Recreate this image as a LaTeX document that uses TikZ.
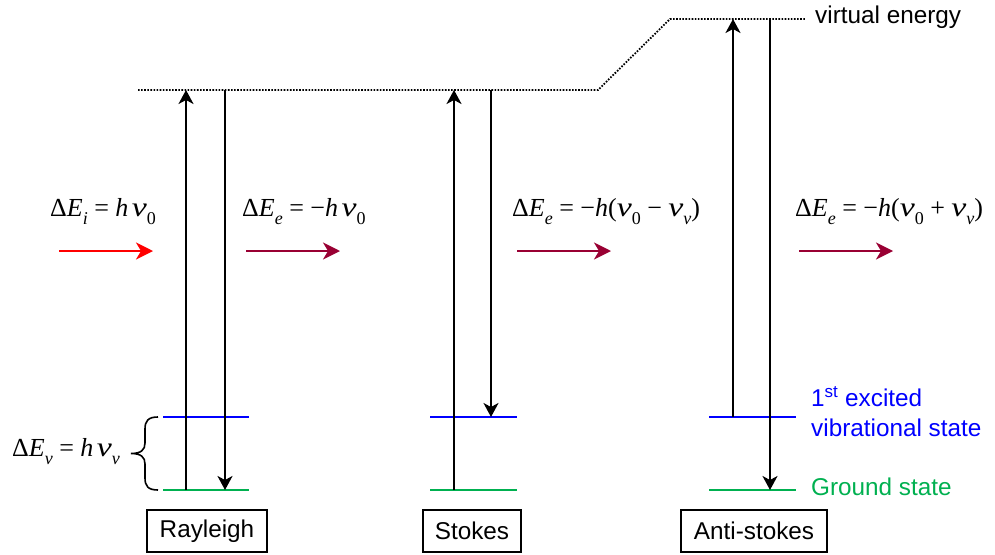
\documentclass[tikz,border=0pt]{standalone}
\usepackage{fontspec}
\usepackage{graphicx}
\setmainfont{Liberation Sans}
\newfontfamily\tms{Liberation Serif}
\usetikzlibrary{arrows.meta}
\definecolor{maroon}{RGB}{153,0,51}
\definecolor{lvblue}{RGB}{0,0,255}
\definecolor{lvgreen}{RGB}{0,176,80}
\newcommand{\sbs}[1]{\raisebox{-0.32em}{\fontsize{18}{18}\selectfont\textit{#1}}}
\newcommand{\sbu}[1]{\raisebox{-0.32em}{\fontsize{18}{18}\selectfont #1}}
\newcommand{\nuu}{\scalebox{1.3}[1.05]{\textit{ν}}}
\newcommand{\opsp}{\hspace{6.5pt}}
\tikzset{
  txt/.style={font=\fontsize{24.3}{28}\selectfont, inner sep=0pt},
  eqn/.style={font=\tms\fontsize{26}{30}\selectfont, inner sep=0pt, anchor=base west},
  virt/.style={line width=1.8pt, dash pattern=on 1.6pt off 1.5pt},
  trans/.style={line width=2pt, -{Stealth[length=14pt,width=15pt,inset=4pt]}},
  bar/.style={line width=2pt},
  photon/.style={line width=2pt, -{Stealth[length=17pt,width=17pt,inset=5pt]}},
  lblbox/.style={draw, line width=1.2pt, minimum height=42pt, font=\fontsize{24.3}{28}\selectfont, inner sep=0pt}
}
\begin{document}
\begin{tikzpicture}[x=1pt,y=-1pt]
\useasboundingbox (0,0) rectangle (995,554);
% virtual energy level
\coordinate (vL) at (138,90);
\coordinate (vK1) at (598,90);
\coordinate (vK2) at (670,19);
\coordinate (vR) at (805,19);
\draw[virt] (vL) -- (vK1) -- (vK2) -- (vR);
\node[txt, anchor=west] (vlab) at (815,17) {virtual energy};
% Rayleigh
\coordinate (r1a) at (163,417); \coordinate (r1b) at (249,417);
\coordinate (r0a) at (163,490); \coordinate (r0b) at (249,490);
\draw[bar, lvblue] (r1a) -- (r1b);
\draw[bar, lvgreen] (r0a) -- (r0b);
\coordinate (ru0) at (186,490); \coordinate (ru1) at (186,90);
\coordinate (rd0) at (225,90); \coordinate (rd1) at (225,490);
\draw[trans] (ru0) -- (ru1);
\draw[trans] (rd0) -- (rd1);
% brace
\coordinate (bt) at (158,417); \coordinate (bb) at (158,490); \coordinate (btip) at (131,453.5);
\draw[line width=1.6pt] (bt) .. controls (148,417) and (145,421) .. (145,429) -- (145,443)
  .. controls (145,450) and (141,453.5) .. (btip)
  .. controls (141,453.5) and (145,457) .. (145,464) -- (145,478)
  .. controls (145,486) and (148,490) .. (bb);
\node[eqn] (eqv) at (12,456) {Δ\textit{E}\sbs{v}\opsp=\opsp\textit{h}\hspace{3.5pt}\nuu\sbs{v}};
\node[lblbox, minimum width=120pt] (rbox) at (207,531) {Rayleigh};
% Stokes
\coordinate (s1a) at (430,417); \coordinate (s1b) at (517,417);
\coordinate (s0a) at (430,490); \coordinate (s0b) at (517,490);
\draw[bar, lvblue] (s1a) -- (s1b);
\draw[bar, lvgreen] (s0a) -- (s0b);
\coordinate (su0) at (454,490); \coordinate (su1) at (454,90);
\coordinate (sd0) at (491,90); \coordinate (sd1) at (491,417);
\draw[trans] (su0) -- (su1);
\draw[trans] (sd0) -- (sd1);
\node[lblbox, minimum width=98pt] (sbox) at (472,531) {Stokes};
% Anti-stokes
\coordinate (a1a) at (709,417); \coordinate (a1b) at (796,417);
\coordinate (a0a) at (709,490); \coordinate (a0b) at (796,490);
\draw[bar, lvblue] (a1a) -- (a1b);
\draw[bar, lvgreen] (a0a) -- (a0b);
\coordinate (au0) at (733,417); \coordinate (au1) at (733,19);
\coordinate (ad0) at (770,19); \coordinate (ad1) at (770,490);
\draw[trans] (au0) -- (au1);
\draw[trans] (ad0) -- (ad1);
\node[lblbox, minimum width=146pt] (abox) at (754,531) {Anti-stokes};
% state labels
\node[txt, anchor=west, text=lvblue, align=left, font=\fontsize{24.3}{30}\selectfont] (exlab) at (811,412) {1\textsuperscript{st} excited\\vibrational state};
\node[txt, anchor=west, text=lvgreen] (gslab) at (811,487) {Ground state};
% energies
\node[eqn] (eqi) at (50,216) {Δ\textit{E}\sbs{i}\opsp=\opsp\textit{h}\hspace{3.5pt}\nuu\sbu{0}};
\node[eqn] (eqe1) at (242,216) {Δ\textit{E}\sbs{e}\opsp=\opsp−\textit{h}\hspace{3.5pt}\nuu\sbu{0}};
\node[eqn] (eqe2) at (512,216) {Δ\textit{E}\sbs{e}\opsp=\opsp−\textit{h}(\nuu\sbu{0}\opsp−\opsp\nuu\sbs{v})};
\node[eqn] (eqe3) at (795,216) {Δ\textit{E}\sbs{e}\opsp=\opsp−\textit{h}(\nuu\sbu{0}\opsp+\opsp\nuu\sbs{v})};
% photons
\coordinate (p0a) at (59,251); \coordinate (p0b) at (153,251);
\coordinate (p1a) at (246,251); \coordinate (p1b) at (340,251);
\coordinate (p2a) at (517,251); \coordinate (p2b) at (611,251);
\coordinate (p3a) at (799,251); \coordinate (p3b) at (893,251);
\draw[photon, red] (p0a) -- (p0b);
\draw[photon, maroon] (p1a) -- (p1b);
\draw[photon, maroon] (p2a) -- (p2b);
\draw[photon, maroon] (p3a) -- (p3b);
\end{tikzpicture}
\end{document}
